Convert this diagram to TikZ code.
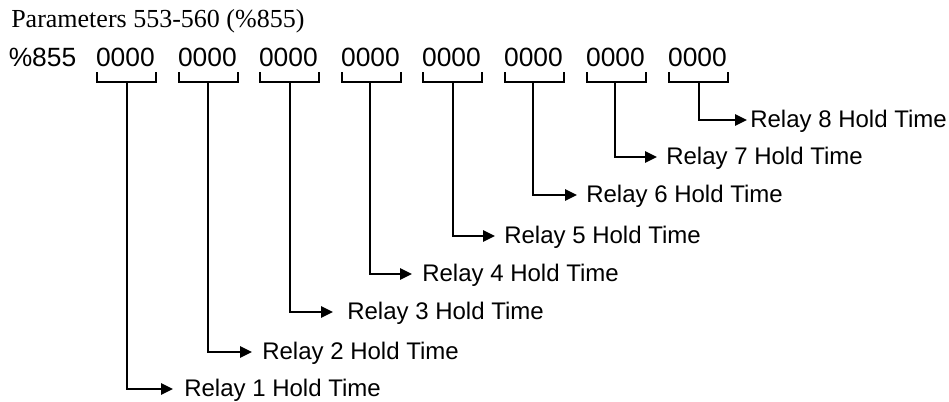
\documentclass[tikz,border=0pt]{standalone}
\usepackage{fontspec}
\setmainfont{Liberation Serif}
\setsansfont{Liberation Sans}
\usetikzlibrary{arrows.meta}
\tikzset{
  title/.style={font=\fontsize{19.5pt}{22pt}\selectfont\rmfamily, inner sep=0pt, anchor=base west},
  digits/.style={font=\fontsize{19.8pt}{22pt}\selectfont\sffamily, inner sep=0pt, anchor=base west},
  relaytxt/.style={font=\fontsize{18pt}{20pt}\selectfont\sffamily, inner sep=0pt, anchor=base west},
  bracketline/.style={line width=1.6pt, line cap=rect, line join=miter},
  arrowline/.style={line width=1.6pt, line join=miter, -{Triangle[length=9pt,width=8.5pt]}}
}
\begin{document}
\begin{tikzpicture}[x=0.75pt,y=-0.75pt]
\useasboundingbox (0,0) rectangle (949,402);
\node[title] (ttl) at (11,28) {Parameters 553-560 (\%855)};
\node[digits] (pct) at (8.5,67) {\%855};
% groups: index, left x, stem x, arrow y, tip x, text x
\foreach \i/\gx/\sx/\ay/\tx/\rx in {
  1/97/127/389/173/185,
  2/179/208/352/252/263,
  3/260/290/312/333/348,
  4/342/370/274/412/423,
  5/423/453/236/495/505,
  6/505/533/195/577/587,
  7/587/615/157/657/667,
  8/669/699/120/747/751}{
  \node[digits] (g\i) at (\gx-1.2,67) {0000};
  \coordinate (bl\i) at (\gx,73);
  \coordinate (br\i) at (\gx+59,73);
  \coordinate (bm\i) at (\sx,82);
  \coordinate (tip\i) at (\tx,\ay);
  \node[relaytxt] (r\i) at (\rx-1,\ay+7.5) {Relay \i\ Hold Time};
  \draw[bracketline] (bl\i) |- (br\i |- bm\i) -- (br\i);
  \draw[arrowline] (bm\i) |- (tip\i);
}
\end{tikzpicture}
\end{document}
